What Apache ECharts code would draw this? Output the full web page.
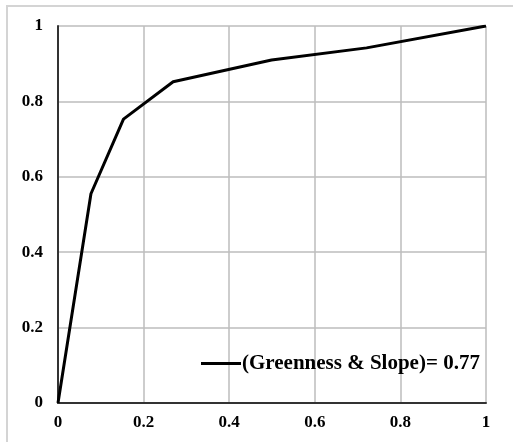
<!DOCTYPE html>
<html><head><meta charset="utf-8">
<script src="https://cdn.jsdelivr.net/npm/echarts@6/dist/echarts.min.js"></script>
<style>html,body{margin:0;padding:0;background:#fff}#c{width:513px;height:442px}</style>
</head><body><div id="c"></div>
<script>
const xValues = [0, 0.077, 0.153, 0.269, 0.499, 0.721, 1];
const yValues = [0, 0.555, 0.753, 0.852, 0.910, 0.942, 1];
const seriesName = '(Greenness & Slope)= 0.77';
const xTicks = [0, 0.2, 0.4, 0.6, 0.8, 1];
const yTicks = [0, 0.2, 0.4, 0.6, 0.8, 1];

const chart = echarts.init(document.getElementById('c'), null, {renderer: 'canvas'});
const font = 'Liberation Serif';
chart.setOption({
  animation: false,
  backgroundColor: '#fff',
  graphic: [{type: 'rect', shape: {x: 7, y: 6, width: 540, height: 460}, style: {fill: 'none', stroke: '#d4d4d4', lineWidth: 2}, z: -1}],
  grid: {left: 58, top: 26, right: 27, bottom: 39},
  legend: {
    left: 196, top: 348, icon: 'rect', itemWidth: 40, itemHeight: 3, itemGap: 2,
    textStyle: {fontFamily: font, fontWeight: 'bold', fontSize: 21, color: '#000', padding: [0,0,0,-4]},
    data: [{name: seriesName}]
  },
  xAxis: {
    type: 'value', min: 0, max: 1, interval: 0.2,
    axisLine: {show: true, lineStyle: {color: '#333', width: 2}},
    axisTick: {show: false},
    splitLine: {show: true, lineStyle: {color: '#bdbdbd', width: 1.5}},
    axisLabel: {margin: 11, fontFamily: font, fontWeight: 'bold', fontSize: 17, color: '#000',
      formatter: v => String(xTicks.find(t => Math.abs(t - v) < 1e-9) ?? v)}
  },
  yAxis: {
    type: 'value', min: 0, max: 1, interval: 0.2,
    axisLine: {show: true, lineStyle: {color: '#333', width: 2}},
    axisTick: {show: false},
    splitLine: {show: true, lineStyle: {color: '#bdbdbd', width: 1.5}},
    axisLabel: {margin: 15, fontFamily: font, fontWeight: 'bold', fontSize: 17, color: '#000',
      formatter: v => String(yTicks.find(t => Math.abs(t - v) < 1e-9) ?? v)}
  },
  series: [{
    name: seriesName, type: 'line', showSymbol: false,
    lineStyle: {color: '#000', width: 3}, itemStyle: {color: '#000'},
    data: xValues.map((x, i) => [x, yValues[i]])
  }]
});
</script></body></html>
